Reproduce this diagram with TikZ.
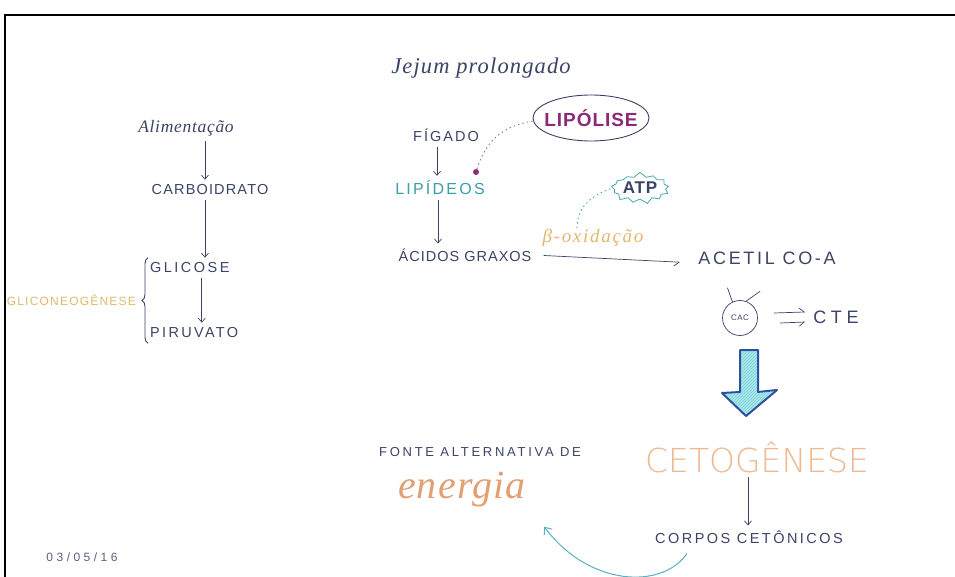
\documentclass[tikz,border=0pt]{standalone}
\usepackage{fontspec}
\setmainfont{Liberation Sans}
\newfontfamily\capsf{Liberation Sans}
\newfontfamily\thinf{DejaVu Sans ExtraLight}
\newfontfamily\cursivefont{Liberation Serif}
\usetikzlibrary{arrows.meta,shapes.symbols,decorations.pathreplacing,patterns}
\definecolor{ink}{HTML}{3C4466}
\definecolor{tealtxt}{HTML}{3A9FA8}
\definecolor{purp}{HTML}{8B2A78}
\definecolor{tan}{HTML}{E0B96E}
\definecolor{ceto}{HTML}{F0B88E}
\definecolor{ener}{HTML}{E39F74}
\definecolor{atpline}{HTML}{4AA8A8}
\definecolor{bigfill}{HTML}{B4E4EA}
\definecolor{bigline}{HTML}{2E4FA0}
\definecolor{curv}{HTML}{5AB0C0}
\newcommand{\cf}[2]{\capsf\fontsize{#1}{#1}\selectfont\addfontfeature{LetterSpace=#2}}
\newcommand{\hf}[2]{\cursivefont\itshape\fontsize{#1}{#1}\selectfont\addfontfeature{LetterSpace=#2}}
\begin{document}
\begin{tikzpicture}[x=1pt,y=-1pt,
  caps/.style={text=ink,inner sep=2pt},
  hw/.style={text=ink,inner sep=2pt},
  arr/.style={draw=ink,line width=0.7pt,-{Straight Barb[length=4pt,width=7pt]},shorten >=3pt,shorten <=3pt},
  harp/.style={draw=ink,line width=0.7pt,-{Straight Barb[length=5pt,width=8pt,harpoon]}}
]
\useasboundingbox (0,0) rectangle (955,577);
\fill[white] (0,0) rectangle (955,577);
% frame
\draw[line width=2pt] (5,577) -- (5,15) -- (955,15);

% left column
\node[hw,font=\hf{17.5}{4}] (alim) at (186,128) {Alimentação};
\node[caps,font=\cf{14.5}{8}] (carb) at (210,190) {CARBOIDRATO};
\node[caps,font=\cf{14.5}{17},anchor=west] (glic) at (148,268) {GLICOSE};
\node[caps,font=\cf{14.5}{16},anchor=west] (piru) at (148,333) {PIRUVATO};
\node[text=tan,font=\cf{12}{10},anchor=east,inner sep=1pt] (gneo) at (137,300) {GLICONEOGÊNESE};
\draw[arr] ([xshift=19pt]alim.south) -- ([xshift=19pt]alim.south |- carb.north);
\draw[arr] ([xshift=-5pt]carb.south) -- ([xshift=-5pt]carb.south |- glic.north);
\draw[arr] ([xshift=12pt]glic.south) -- ([xshift=12pt]glic.south |- piru.north);
\draw[ink,line width=0.9pt,decorate,decoration={brace,amplitude=6pt}] ([yshift=-3pt]piru.south west) -- ([yshift=3pt]glic.north west);

% middle column
\node[hw,font=\hf{22.5}{5}] (jejum) at (481,68) {Jejum prolongado};
\node[caps,font=\cf{14.5}{14}] (fig) at (446,135) {FÍGADO};
\node[caps,text=tealtxt,font=\cf{16}{14}] (lipid) at (440,188) {LIPÍDEOS};
\node[caps,font=\cf{14.5}{7}] (acid) at (465,255) {ÁCIDOS GRAXOS};
\draw[arr] ([xshift=-9pt]fig.south) -- ([xshift=-9pt]fig.south |- lipid.north);
\draw[arr] ([xshift=-2pt]lipid.south) -- ([xshift=-2pt]lipid.south |- acid.north);

\node[text=purp,font=\capsf\bfseries\fontsize{19}{19}\selectfont\addfontfeature{LetterSpace=5},inner sep=1pt] (lipo) at (591,118) {LIPÓLISE};
\draw[ink,line width=0.9pt] (lipo.center) ellipse [x radius=58, y radius=23];
\coordinate (lipow) at ([xshift=-58pt,yshift=-3pt]lipo.center);
\node[circle,fill=purp,inner sep=0pt,minimum size=6pt] (dot) at (476,172) {};
\draw[gray,line width=0.9pt,dash pattern=on 1.5pt off 3pt] (dot) .. controls +(10,-32) and +(-30,5) .. (lipow);

\node[starburst,starburst points=13,starburst point height=5pt,random starburst=7,draw=atpline,line width=0.8pt,text=ink,font=\capsf\bfseries\fontsize{17}{17}\selectfont\addfontfeature{LetterSpace=5},inner sep=1pt,minimum width=58pt,minimum height=32pt] (atp) at (640,188) {ATP};
\node[text=tan,font=\hf{19}{9},inner sep=1pt] (beta) at (593,238) {β-oxidação};
\draw[atpline,line width=0.9pt,dash pattern=on 1.5pt off 3pt] ([xshift=-16pt]beta.north) .. controls +(0,-25) and +(-15,5) .. (atp.west);

\node[caps,font=\cf{18}{15}] (acetil) at (767,258) {ACETIL CO-A};
\draw[draw=ink,line width=0.7pt,-{Straight Barb[length=5pt,width=8pt,harpoon,swap]},shorten <=10pt,shorten >=16pt] (acid.east) -- ([yshift=-5pt]acetil.west);

% CAC
\node[circle,draw=ink,line width=0.7pt,text=ink,font=\cf{8}{5},inner sep=1pt,minimum size=35pt] (cac) at (740,318) {CAC};
\draw[ink,line width=0.7pt] (cac.115) -- ++(-5,-14);
\draw[ink,line width=0.7pt] (cac.70) -- ++(14,-10);
\node[caps,font=\cf{18}{26}] (cte) at (836,317) {CTE};
\draw[harp] ([xshift=16pt,yshift=5pt]cac.east) -- ([xshift=-6pt,yshift=5pt]cte.west);
\draw[draw=ink,line width=0.7pt,-{Straight Barb[length=5pt,width=8pt,harpoon,swap]}] ([xshift=22pt,yshift=-5pt]cac.east) -- ([xshift=-6pt,yshift=-5pt]cte.west);

% big arrow
\filldraw[fill=bigfill,draw=bigline,line width=2pt,line join=round]
  (740,350) -- (758,350) -- (758,392) -- (777,390) -- (746,416) -- (722,393) -- (740,392) -- cycle;
\fill[pattern=north east lines,pattern color=cyan!50!teal!60]
  (741,351) -- (757,351) -- (757,393) -- (774,391) -- (746,414) -- (725,394) -- (741,393) -- cycle;

\node[text=ceto,font=\thinf\fontsize{33}{33}\selectfont,inner sep=1pt] (cetog) at (757,457) {CETOGÊNESE};
\node[caps,font=\cf{14.5}{17}] (corpos) at (749,537) {CORPOS CETÔNICOS};
\draw[arr] ([xshift=-9pt]cetog.south) -- ([xshift=-9pt]cetog.south |- corpos.north);

% energy
\node[caps,font=\cf{13}{21}] (fonte) at (480,452) {FONTE ALTERNATIVA DE};
\node[text=ener,font=\hf{40}{3},inner sep=1pt] (energia) at (462,490) {energia};
\draw[curv,line width=1pt,-{Straight Barb[length=6pt,width=10pt]}] ([xshift=34pt,yshift=-8pt]corpos.south west) .. controls +(-25,36) and +(45,60) .. ([xshift=17pt,yshift=-18pt]energia.south east);

\node[text=ink!85,font=\cf{12}{29}] (date) at (82,557) {03/05/16};
\end{tikzpicture}
\end{document}
